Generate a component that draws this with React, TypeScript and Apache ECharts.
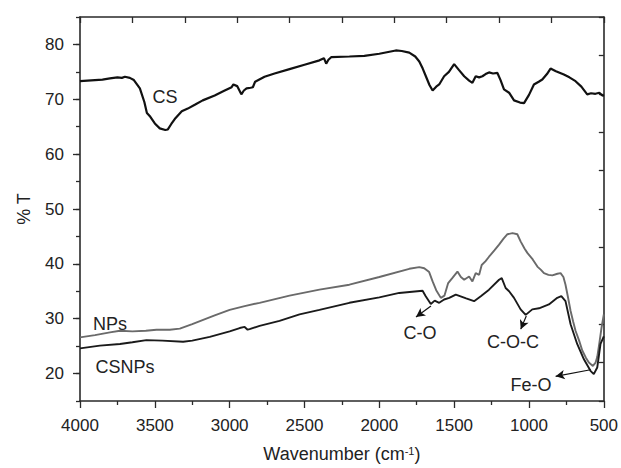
import React, { useEffect, useRef } from "react";
import * as echarts from "echarts";

// ---- data (wavenumber cm-1, %T) ----
const csWave = [4000, 3950, 3900, 3850, 3800, 3750, 3720, 3700, 3667, 3640, 3600, 3570, 3553, 3530, 3500, 3467, 3430, 3413, 3390, 3367, 3320, 3280, 3233, 3180, 3100, 3040, 2987, 2975, 2950, 2922, 2905, 2887, 2860, 2845, 2830, 2767, 2700, 2600, 2500, 2400, 2370, 2355, 2340, 2320, 2200, 2100, 2000, 1890, 1850, 1800, 1760, 1733, 1710, 1689, 1665, 1644, 1620, 1600, 1567, 1535, 1500, 1470, 1433, 1400, 1378, 1356, 1333, 1311, 1290, 1267, 1240, 1211, 1190, 1167, 1133, 1100, 1060, 1033, 1000, 967, 935, 911, 880, 856, 820, 767, 730, 689, 650, 611, 585, 556, 530, 515, 500];
const csT = [73.3, 73.4, 73.5, 73.6, 73.8, 74.0, 73.9, 74.1, 73.9, 73.5, 72.0, 69.5, 67.5, 66.8, 65.6, 64.7, 64.4, 64.5, 65.5, 66.4, 67.8, 68.3, 69.0, 69.8, 70.7, 71.5, 72.2, 72.7, 72.4, 70.9, 71.6, 72.0, 72.1, 72.2, 73.2, 74.1, 74.7, 75.5, 76.3, 77.1, 77.5, 76.5, 77.2, 77.7, 77.8, 77.9, 78.3, 78.9, 78.8, 78.5, 77.8, 76.9, 75.6, 74.2, 72.6, 71.6, 72.3, 72.7, 74.2, 75.0, 76.4, 75.4, 74.2, 73.4, 73.0, 74.2, 74.0, 74.2, 74.6, 74.9, 74.7, 74.8, 73.5, 71.8, 71.2, 69.8, 69.4, 69.3, 70.8, 72.7, 73.2, 73.6, 74.6, 75.6, 75.1, 74.5, 74.0, 73.3, 72.3, 70.9, 71.1, 71.0, 71.2, 70.8, 70.6];

const npWave = [4000, 3900, 3800, 3733, 3650, 3560, 3489, 3400, 3333, 3250, 3100, 3000, 2900, 2800, 2600, 2400, 2200, 2000, 1800, 1733, 1700, 1667, 1644, 1620, 1589, 1565, 1540, 1510, 1478, 1455, 1433, 1400, 1378, 1356, 1333, 1316, 1290, 1267, 1230, 1200, 1170, 1144, 1110, 1078, 1056, 1030, 1011, 975, 944, 920, 900, 870, 844, 810, 789, 770, 756, 740, 722, 705, 689, 665, 644, 620, 600, 573, 555, 544, 530, 515, 500];
const npT = [26.6, 27.0, 27.5, 27.8, 27.7, 27.8, 28.0, 28.0, 28.2, 29.0, 30.6, 31.6, 32.3, 32.9, 34.2, 35.3, 36.2, 37.6, 39.1, 39.4, 39.2, 38.5, 36.8, 35.2, 33.8, 34.2, 36.5, 37.5, 38.6, 37.6, 37.1, 37.7, 36.8, 38.3, 38.0, 39.8, 40.5, 41.3, 42.5, 43.5, 44.6, 45.4, 45.6, 45.4, 44.1, 42.8, 42.0, 40.8, 39.5, 38.9, 38.3, 38.0, 37.9, 38.2, 38.3, 37.6, 36.2, 34.0, 31.4, 29.5, 27.8, 26.0, 24.2, 22.9, 22.0, 21.4, 22.0, 23.0, 25.5, 28.4, 30.8];

const csnpWave = [4000, 3867, 3733, 3650, 3556, 3450, 3311, 3250, 3133, 3000, 2933, 2900, 2880, 2867, 2800, 2667, 2533, 2400, 2200, 2000, 1867, 1711, 1690, 1656, 1630, 1600, 1567, 1533, 1489, 1420, 1367, 1322, 1267, 1200, 1182, 1156, 1133, 1100, 1056, 1022, 978, 933, 867, 811, 784, 756, 722, 678, 633, 589, 567, 544, 522, 500];
const csnpT = [24.6, 25.1, 25.4, 25.7, 26.1, 26.0, 25.8, 26.0, 26.7, 27.7, 28.3, 28.5, 28.0, 28.1, 28.7, 29.6, 30.8, 31.6, 32.9, 33.9, 34.7, 35.1, 34.1, 32.7, 33.3, 32.9, 33.5, 33.8, 34.4, 33.7, 33.2, 34.1, 35.3, 37.1, 37.4, 35.6, 35.0, 33.8, 31.7, 30.7, 31.7, 31.9, 32.6, 33.8, 34.1, 33.2, 29.0, 25.4, 22.6, 20.5, 19.9, 21.1, 25.4, 26.8];

// annotation arrows: [fromWave, fromT, toWave, toT]
const arrowCO = [1655, 32.3, 1755, 30.3];
const arrowCOC = [1018, 30.5, 1055, 28.1];
const arrowFeO = [589, 20.7, 822, 19.5];

const xTickLabels = ["4000", "3500", "3000", "2500", "2000", "1500", "1000", "500"];

const FONT = '"Liberation Sans", Arial, Helvetica, sans-serif';
const AX = "#2a2a2a";

function zip(a: number[], b: number[]) {
  return a.map((w, i) => [w, b[i]]);
}

function arrow(a: number[]) {
  return [
    { coord: [a[0], a[1]], symbol: "none" },
    { coord: [a[2], a[3]], symbol: "arrow" },
  ];
}

export default function App() {
  const ref = useRef<HTMLDivElement>(null);
  useEffect(() => {
    if (!ref.current) return;
    const chart = echarts.init(ref.current, undefined, { renderer: "svg" });
    const txt = (text: string, x: number, y: number) => ({
      type: "text",
      x,
      y,
      silent: true,
      style: {
        text,
        fontSize: 18,
        fontFamily: FONT,
        fill: "#222",
        align: "center",
        verticalAlign: "middle",
        textAlign: "center",
        textVerticalAlign: "middle",
      },
    });
    chart.setOption({
      animation: false,
      backgroundColor: "#fff",
      grid: { left: 80, right: 16, top: 17, bottom: 65 },
      xAxis: [
        {
          type: "value",
          position: "bottom",
          min: 500,
          max: 4000,
          interval: 500,
          inverse: true,
          name: "Wavenumber (cm{sup|-1})",
          nameLocation: "middle",
          nameGap: 44,
          nameTextStyle: {
            fontSize: 18,
            fontFamily: FONT,
            color: "#222",
            rich: { sup: { fontSize: 11, fontFamily: FONT, color: "#222", verticalAlign: "top" } },
          },
          axisLine: { show: true, onZero: false, lineStyle: { color: AX, width: 1.6 } },
          axisTick: { show: true, inside: false, length: 7, lineStyle: { color: AX, width: 1.3 } },
          minorTick: { show: true, splitNumber: 2, length: 4, lineStyle: { color: AX, width: 1.3 } },
          splitLine: { show: false },
          axisLabel: {
            margin: 16,
            fontSize: 17,
            fontFamily: FONT,
            color: "#222",
            formatter: (v: number) => (xTickLabels.includes(String(v)) ? String(v) : ""),
          },
        },
        {
          type: "value",
          position: "top",
          min: 0,
          max: 3500,
          interval: 350,
          axisLine: { show: true, onZero: false, lineStyle: { color: AX, width: 1.6 } },
          axisTick: { show: true, inside: true, length: 6, lineStyle: { color: AX, width: 1.3 } },
          axisLabel: { show: false },
          splitLine: { show: false },
        },
      ],
      yAxis: [
        {
          type: "value",
          position: "left",
          min: 15,
          max: 85,
          splitNumber: 7,
          name: "% T",
          nameLocation: "middle",
          nameGap: 47,
          nameTextStyle: { fontSize: 18, fontFamily: FONT, color: "#222" },
          axisLine: { show: true, onZero: false, lineStyle: { color: AX, width: 1.6 } },
          axisTick: { show: true, inside: false, length: 7, lineStyle: { color: AX, width: 1.3 } },
          splitLine: { show: false },
          axisLabel: {
            margin: 16,
            fontSize: 17,
            fontFamily: FONT,
            color: "#222",
            showMinLabel: false,
            showMaxLabel: false,
          },
        },
        {
          type: "value",
          position: "left",
          min: 15,
          max: 85,
          interval: 5,
          axisLine: { show: false },
          axisTick: { show: true, inside: false, length: 4, lineStyle: { color: AX, width: 1.3 } },
          axisLabel: { show: false },
          splitLine: { show: false },
        },
        {
          type: "value",
          position: "right",
          min: 0,
          max: 70,
          interval: 7,
          axisLine: { show: true, onZero: false, lineStyle: { color: AX, width: 1.6 } },
          axisTick: { show: true, inside: true, length: 5, lineStyle: { color: AX, width: 1.3 } },
          axisLabel: { show: false },
          splitLine: { show: false },
        },
      ],
      series: [
        {
          name: "CS",
          type: "line",
          data: zip(csWave, csT),
          showSymbol: false,
          symbol: "none",
          lineStyle: { color: "#111", width: 2.2 },
          silent: true,
        },
        {
          name: "NPs",
          type: "line",
          data: zip(npWave, npT),
          showSymbol: false,
          symbol: "none",
          lineStyle: { color: "#6a6a6a", width: 1.9 },
          silent: true,
        },
        {
          name: "CSNPs",
          type: "line",
          data: zip(csnpWave, csnpT),
          showSymbol: false,
          symbol: "none",
          lineStyle: { color: "#1a1a1a", width: 1.9 },
          silent: true,
          markLine: {
            silent: true,
            symbolSize: [7, 9],
            label: { show: false },
            lineStyle: { color: "#111", width: 1.2, type: "solid" },
            data: [arrow(arrowCO), arrow(arrowCOC), arrow(arrowFeO)],
          },
        },
      ],
      graphic: [
        txt("CS", 165, 97),
        txt("NPs", 110, 324),
        txt("CSNPs", 125, 367),
        txt("C-O", 420, 333),
        txt("C-O-C", 513, 342),
        txt("Fe-O", 531, 385),
      ],
    });
    return () => chart.dispose();
  }, []);
  return <div ref={ref} style={{ width: 621, height: 468, position: "absolute", left: 0, top: 0 }} />;
}
